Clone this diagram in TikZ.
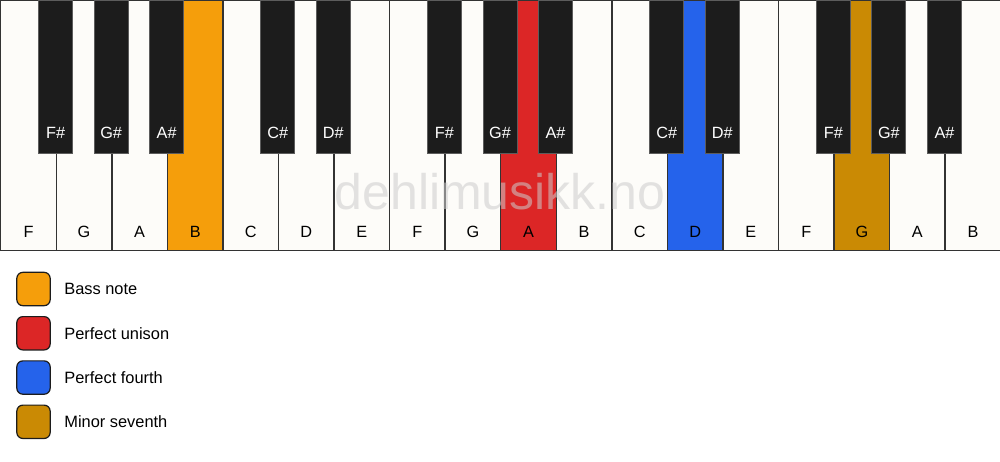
\documentclass[tikz,border=0pt]{standalone}
\usepackage{fontspec}
\setmainfont{Liberation Sans}
\usetikzlibrary{positioning}

\definecolor{keywhite}{HTML}{FDFCF9}
\definecolor{keyblack}{HTML}{1C1C1C}
\definecolor{keyline}{HTML}{333333}
\definecolor{bassnote}{HTML}{F59E0B}
\definecolor{unison}{HTML}{DC2626}
\definecolor{fourth}{HTML}{2563EB}
\definecolor{seventh}{HTML}{CA8A04}

\begin{document}
\begin{tikzpicture}[x=0.75pt, y=-0.75pt,
whitekey/.style={rectangle, draw=keyline, line width=1.1pt, minimum width=41.667pt, minimum height=187.5pt, inner sep=0pt, anchor=north west},
blackkey/.style={rectangle, draw=keyline!80, line width=0.6pt, fill=keyblack, minimum width=25.5pt, minimum height=114.75pt, inner sep=0pt, anchor=north},
keylabel/.style={font=\fontsize{12.2}{14}\selectfont, inner sep=0pt},
legendbox/.style={rectangle, rounded corners=4.5pt, draw=keyblack, line width=0.9pt, minimum size=25pt, inner sep=0pt},
legendtext/.style={font=\fontsize{12.3}{14}\selectfont, inner sep=0pt, anchor=west},
]
\useasboundingbox (0,0) rectangle (1000,461);

% White keys
\foreach \n/\c [count=\i from 0] in {F/keywhite, G/keywhite, A/keywhite, B/bassnote, C/keywhite, D/keywhite, E/keywhite, F/keywhite, G/keywhite, A/unison, B/keywhite, C/keywhite, D/fourth, E/keywhite, F/keywhite, G/seventh, A/keywhite, B/keywhite} {
  \node[whitekey, fill=\c] (w\i) at ({\i*55.5556},0) {};
  \node[keylabel] (lw\i) at ([yshift=15pt]w\i.south) {\n};
}

% Watermark
\node[font=\fontsize{37.5}{40}\selectfont, text=gray!40, opacity=0.55] (mark) at (500,192) {dehlimusikk.no};

% Black keys
\foreach \b/\n in {1/F\#, 2/G\#, 3/A\#, 5/C\#, 6/D\#, 8/F\#, 9/G\#, 10/A\#, 12/C\#, 13/D\#, 15/F\#, 16/G\#, 17/A\#} {
  \node[blackkey] (b\b) at ({\b*55.5556},0) {};
  \node[keylabel, text=white] (lb\b) at ([yshift=15.75pt]b\b.south) {\n};
}

% Legend
\node[legendbox, fill=bassnote] (sq1) at (33.5,289) {};
\node[legendbox, fill=unison] (sq2) [below=7.3pt of sq1] {};
\node[legendbox, fill=fourth] (sq3) [below=7.3pt of sq2] {};
\node[legendbox, fill=seventh] (sq4) [below=7.3pt of sq3] {};
\node[legendtext] (t1) [right=10pt of sq1] {Bass note};
\node[legendtext] (t2) [right=10pt of sq2] {Perfect unison};
\node[legendtext] (t3) [right=10pt of sq3] {Perfect fourth};
\node[legendtext] (t4) [right=10pt of sq4] {Minor seventh};

\end{tikzpicture}
\end{document}
